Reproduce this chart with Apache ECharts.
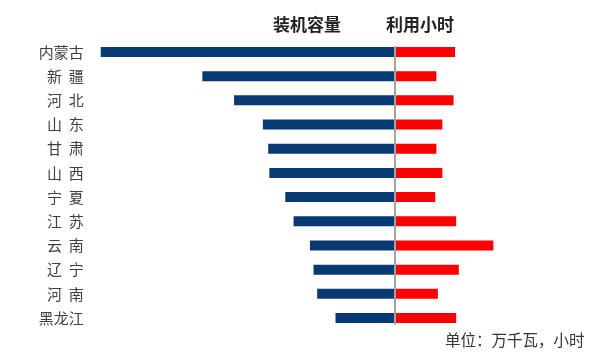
<!DOCTYPE html>
<html>
<head>
<meta charset="utf-8">
<script src="https://cdn.jsdelivr.net/npm/echarts@6/dist/echarts.min.js"></script>
<style>
html,body{margin:0;padding:0;background:#fff;}
#chart{width:600px;height:355px;}
</style>
</head>
<body>
<div id="chart"></div>
<script>
// Provinces (top to bottom)
var provinces = ['内蒙古', '新疆', '河北', '山东', '甘肃', '山西', '宁夏', '江苏', '云南', '辽宁', '河南', '黑龙江'];
// 装机容量 (万千瓦)
var capacity = [3007, 1965, 1640, 1345, 1290, 1278, 1115, 1030, 862, 825, 788, 600];
// 利用小时 (小时)
var hours = [2295, 2045, 2275, 2125, 2045, 2125, 2030, 2310, 2808, 2345, 2065, 2310];
// Texts
var leftTitle = '装机容量';
var rightTitle = '利用小时';
var unitNote = '单位：万千瓦，小时';

var FONT = '"Noto Sans CJK SC", "Noto Sans", sans-serif';

function spaced(name) {
  return name.length === 2 ? name.charAt(0) + '  ' + name.charAt(1) : name;
}

var chart = echarts.init(document.getElementById('chart'), null, {renderer: 'canvas'});
chart.setOption({
  backgroundColor: '#ffffff',
  animation: false,
  textStyle: {fontFamily: FONT},
  title: [
    {text: leftTitle, left: 273, top: 16, padding: 0, textStyle: {fontSize: 17, fontWeight: 'bold', color: '#222', fontFamily: FONT}},
    {text: rightTitle, left: 386, top: 16, padding: 0, textStyle: {fontSize: 17, fontWeight: 'bold', color: '#222', fontFamily: FONT}},
    {text: unitNote, left: 445, top: 332, padding: 0, textStyle: {fontSize: 15.5, fontWeight: 'normal', color: '#333', fontFamily: FONT}}
  ],
  grid: [
    {left: 91.7, right: 206, top: 39.9, bottom: 24.9, containLabel: false},
    {left: 395.7, right: 92.3, top: 39.9, bottom: 24.9, containLabel: false},
    {left: 394.5, right: 100, top: 47, bottom: 31, containLabel: false}
  ],
  xAxis: [
    {gridIndex: 0, type: 'value', inverse: true, min: 0, max: 3100, show: false},
    {gridIndex: 1, type: 'value', min: 1500, max: 3000, startValue: 1500, show: false},
    {gridIndex: 2, type: 'value', min: 0, max: 1, show: false}
  ],
  yAxis: [
    {
      gridIndex: 0, type: 'category', inverse: true, data: provinces, position: 'left',
      axisLine: {show: false}, axisTick: {show: false}, splitLine: {show: false},
      axisLabel: {
        margin: 8, fontSize: 15, color: '#404040', fontFamily: FONT,
        formatter: function (v) { return spaced(v); }
      }
    },
    {
      gridIndex: 1, type: 'category', inverse: true, data: provinces,
      axisLine: {show: false}, axisTick: {show: false}, axisLabel: {show: false}, splitLine: {show: false}
    },
    {
      gridIndex: 2, type: 'category', inverse: true, data: provinces, position: 'left', z: 10,
      axisLine: {show: true, lineStyle: {color: '#a3a3a3', width: 2}},
      axisTick: {show: false}, axisLabel: {show: false}, splitLine: {show: false}
    }
  ],
  series: [
    {
      name: leftTitle, type: 'bar', xAxisIndex: 0, yAxisIndex: 0, data: capacity,
      barWidth: 10, itemStyle: {color: '#073a73'}, z: 2
    },
    {
      name: rightTitle, type: 'bar', xAxisIndex: 1, yAxisIndex: 1, data: hours,
      barWidth: 10, clip: true, itemStyle: {color: '#ff0000'}, z: 2
    }
  ]
});
</script>
</body>
</html>
